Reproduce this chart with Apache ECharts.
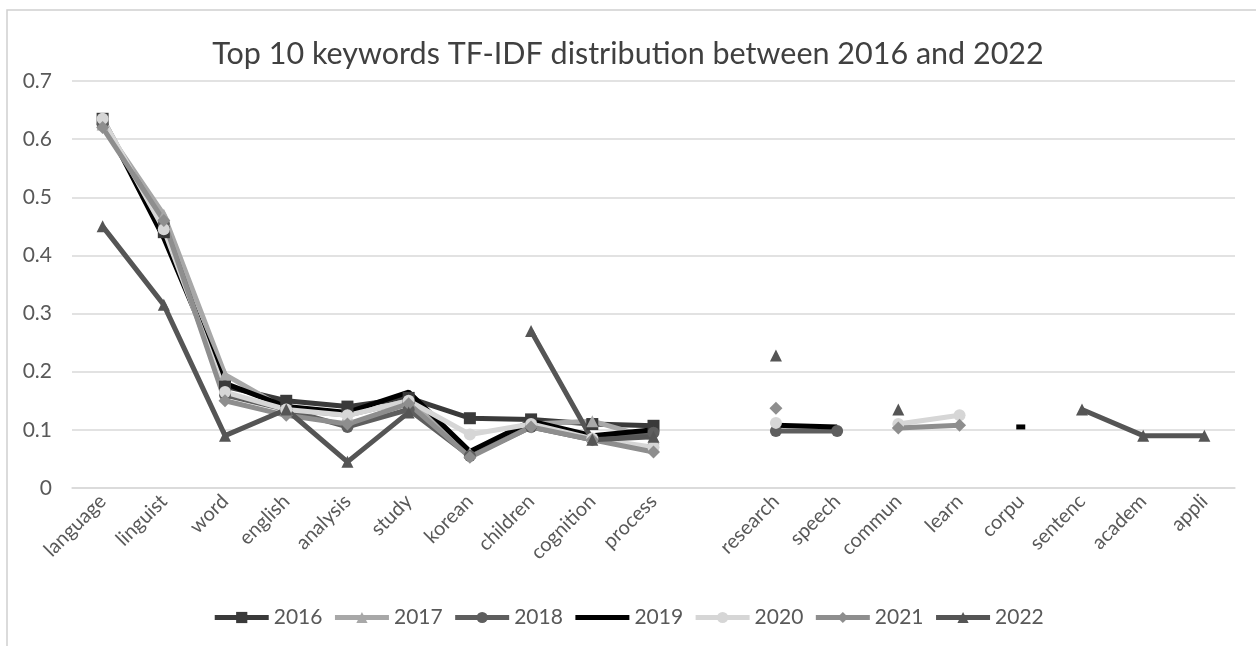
<!DOCTYPE html>
<html>
<head>
<meta charset="utf-8">
<script src="https://cdn.jsdelivr.net/npm/echarts@6/dist/echarts.min.js"></script>
<style>
html,body{margin:0;padding:0;background:#fff;}
#chart{width:1256px;height:646px;}
</style>
</head>
<body>
<div id="chart"></div>
<script>
// ---- data ----
const categories = ['language','linguist','word','english','analysis','study','korean','children','cognition','process','','research','speech','commun','learn','corpu','sentenc','academ','appli'];
const yTicks = [0, 0.1, 0.2, 0.3, 0.4, 0.5, 0.6, 0.7];
const years = ['2016','2017','2018','2019','2020','2021','2022'];
const v2016 = [0.635,0.44,0.175,0.15,0.14,0.155,0.12,0.118,0.11,0.107,null,null,null,null,null,null,null,null,null];
const v2017 = [0.625,0.47,0.195,0.135,0.125,0.15,0.06,0.11,0.115,0.085,null,null,null,null,null,null,null,null,null];
const v2018 = [0.625,0.455,0.16,0.135,0.105,0.135,0.055,0.105,0.083,0.095,null,0.098,0.098,null,null,null,null,null,null];
const v2019 = [0.635,0.43,0.18,0.14,0.13,0.165,0.063,0.115,0.09,0.1,null,0.108,0.105,null,null,0.105,null,null,null];
const v2020 = [0.635,0.445,0.165,0.135,0.125,0.15,0.092,0.11,0.085,0.07,null,0.112,null,0.11,0.125,null,null,null,null];
const v2021 = [0.62,0.46,0.15,0.125,0.11,0.145,0.053,0.105,0.083,0.062,null,0.137,null,0.103,0.108,null,null,null,null];
const v2022 = [0.45,0.315,0.09,0.135,0.045,0.13,null,0.27,0.083,0.088,null,0.228,null,0.135,null,null,0.135,0.09,0.09];

// ---- styles ----
const FONT = 'Lato';
const styles = [
  {color:'#3a3a3a', symbol:'rect'},
  {color:'#a8a8a8', symbol:'triangle'},
  {color:'#5e5e5e', symbol:'circle'},
  {color:'#000000', symbol:'none'},
  {color:'#d6d6d6', symbol:'circle'},
  {color:'#8e8e8e', symbol:'diamond'},
  {color:'#555555', symbol:'triangle'}
];
const values = [v2016,v2017,v2018,v2019,v2020,v2021,v2022];

// isolated point of a marker-less series: give it a short dash so it remains visible
function buildData(arr, noMarker){
  return arr.map((v,i)=>{
    if (v === null) return null;
    const prev = i>0 ? arr[i-1] : null, next = i<arr.length-1 ? arr[i+1] : null;
    if (noMarker && prev === null && next === null) {
      return {value:v, symbol:'rect', symbolSize:[9,5]};
    }
    return v;
  });
}

const series = years.map((y,k)=>({
  name: y,
  type: 'line',
  data: buildData(values[k], styles[k].symbol==='none'),
  symbol: styles[k].symbol,
  symbolSize: styles[k].symbol==='diamond' ? 13 : 12,
  showSymbol: true,
  showAllSymbol: true,
  connectNulls: false,
  lineStyle: {width: 5, color: styles[k].color},
  itemStyle: {color: styles[k].color},
  emphasis: {disabled: true},
  animation: false
}));

const legendData = years.map((y,k)=> styles[k].symbol==='none'
  ? {name: y, itemStyle: {opacity: 0}}
  : {name: y});

const chart = echarts.init(document.getElementById('chart'));
chart.setOption({
  animation: false,
  backgroundColor: '#fff',
  graphic: [{
    type: 'rect',
    shape: {x: 7, y: 10, width: 1300, height: 700},
    style: {fill: 'none', stroke: '#d0d0d0', lineWidth: 1.5},
    silent: true, z: -10
  }],
  title: {
    text: 'Top 10 keywords TF-IDF distribution between 2016 and 2022',
    left: 'center',
    top: 34,
    textStyle: {fontFamily: FONT, fontSize: 30.5, fontWeight: 'normal', color: '#404040'}
  },
  legend: {
    data: legendData,
    bottom: 13,
    left: 'center',
    itemWidth: 54,
    itemHeight: 14,
    itemGap: 10,
    lineStyle: {width: 5},
    textStyle: {fontFamily: FONT, fontSize: 21, color: '#595959'}
  },
  grid: {left: 72, right: 21, top: 81, bottom: 158, containLabel: false},
  xAxis: {
    type: 'category',
    data: categories,
    boundaryGap: true,
    axisLine: {show: true, lineStyle: {color: '#d9d9d9', width: 1.5}},
    axisTick: {show: false},
    axisLabel: {interval: 0, rotate: 45, margin: 10, fontFamily: FONT, fontSize: 20, color: '#595959'}
  },
  yAxis: {
    type: 'value',
    min: yTicks[0],
    max: yTicks[yTicks.length-1],
    interval: 0.1,
    axisLine: {show: false},
    axisTick: {show: false},
    splitLine: {lineStyle: {color: '#d9d9d9', width: 1.5}},
    axisLabel: {margin: 20, fontFamily: FONT, fontSize: 21, color: '#595959',
      formatter: v => String(Math.round(v*10)/10)}
  },
  series: series
});
</script>
</body>
</html>
